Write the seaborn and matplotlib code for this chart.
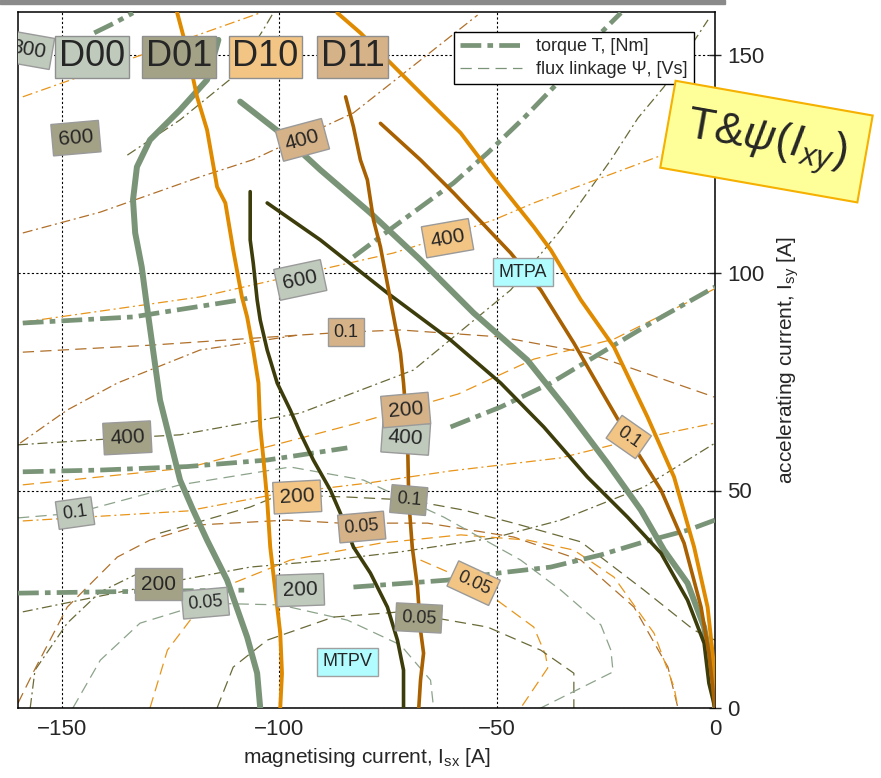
import matplotlib
matplotlib.use('Agg')
import matplotlib.pyplot as plt
from matplotlib.lines import Line2D
from matplotlib.patches import Rectangle
import seaborn as sns

# ---- thick characteristic curves (MTPV / MTPA) per drive, [A] ----
d00_mtpv_x = [-114.0, -116.6, -122.8, -129.7, -132.7, -133.6, -133.1, -131.6, -130.6, -129.0,
              -127.4, -125.1, -122.8, -119.8, -116.6, -112.0, -107.4, -105.1, -104.4]
d00_mtpv_y = [153.6, 144.4, 137.5, 130.6, 124.4, 116.8, 109.2, 101.4, 93.8, 82.3,
              70.8, 61.6, 52.4, 45.5, 38.6, 29.4, 16.3, 8.0, 0]
d01_mtpv_x = [-106.7, -106.7, -106.0, -105.1, -104.4, -102.8, -100.5, -97.5, -95.2, -92.2,
              -88.3, -86.0, -83.0, -79.1, -75.2, -72.9, -71.5, -71.5]
d01_mtpv_y = [118.7, 107.6, 102.3, 93.8, 89.2, 82.3, 74.7, 68.5, 63.2, 57.0,
              50.1, 44.8, 37.0, 31.0, 23.2, 15.6, 8.7, 0]
d10_mtpv_x = [-123.5, -121.2, -118.9, -116.6, -114.3, -112.4, -110.6, -108.6, -107.4, -106.0,
              -104.8, -104.4, -103.7, -102.8, -102.1, -101.4, -99.8, -99.4, -99.8]
d10_mtpv_y = [160, 151.3, 140.5, 132.9, 119.8, 116.1, 105.3, 94.5, 89.9, 82.3,
              74.7, 64.6, 57.7, 47.8, 37.0, 31.0, 17.2, 8.0, 0]
d11_mtpv_x = [-84.8, -83.0, -81.4, -79.8, -78.4, -76.8, -74.5, -72.2, -71.5, -70.6,
              -70.3, -69.5, -68.3, -67.6, -66.9, -67.6, -68.0]
d11_mtpv_y = [140.5, 133.6, 126.0, 121.4, 112.2, 106.0, 93.8, 81.6, 74.7, 63.2,
              47.8, 37.0, 27.8, 17.9, 12.6, 6.4, 0]

d00_mtpa_x = [-109.0, -99.8, -90.6, -79.1, -67.6, -55.4, -43.1, -33.9, -24.7, -17.0, -11.7, -6.3, -2.5, -0.2, 0]
d00_mtpa_y = [139.4, 132.2, 123.7, 113.8, 103.0, 90.8, 80.0, 68.5, 56.3, 45.5, 36.3, 28.7, 18.6, 5.7, 0]
d01_mtpa_x = [-102.8, -90.6, -75.2, -60.7, -49.2, -39.3, -29.3, -20.1, -12.4, -6.3, -2.5, -1.4, 0]
d01_mtpa_y = [116.1, 107.6, 95.4, 84.6, 74.7, 64.6, 53.1, 43.9, 35.6, 24.8, 14.9, 5.7, 0]
d10_mtpa_x = [-86.7, -81.4, -75.2, -67.6, -58.4, -50.8, -41.6, -37.7, -30.8, -23.2, -15.5, -9.4, -4.8, -1.7, -0.2, 0]
d10_mtpa_y = [159.8, 155.2, 149.0, 141.4, 132.2, 122.1, 110.6, 105.3, 93.8, 83.0, 66.9, 53.1, 37.0, 23.2, 9.4, 0]
d11_mtpa_x = [-76.8, -67.6, -60.0, -46.9, -40.0, -32.4, -26.2, -18.6, -12.4, -7.1, -3.2, -1.4, 0]
d11_mtpa_y = [134.4, 126.0, 118.4, 104.6, 96.1, 83.9, 73.1, 60.0, 50.1, 37.9, 23.2, 12.6, 0]

# ---- D00 torque contours (thick dash-dot), broken where the label sits ----
d00_t200a = ([-160, -133.6, -107.4], [26.4, 26.8, 27.1])
d00_t200b = ([-83.0, -61.4, -49.9, -37.7, -26.2, -16.3, -6.2, 0], [27.8, 29.4, 31.0, 32.4, 35.2, 38.2, 40.9, 43.2])
d00_t400a = ([-158.9, -141.1, -121.2, -102.8, -84.4], [54.3, 54.7, 55.5, 57.0, 59.8])
d00_t400b = ([-60.7, -49.2, -37.7, -26.2, -14.7, 0], [64.6, 69.2, 74.7, 81.6, 88.5, 96.8])
d00_t600a = ([-158.9, -133.6, -109.0, -106.0], [88.5, 89.9, 93.8, 94.5])
d00_t600b = ([-83.0, -73.8, -60.0, -52.2, -43.9, -36.1, -28.5, -21.6], [103.7, 110.6, 120.7, 127.6, 135.6, 143.7, 152.9, 159.8])
d00_t800 = ([-142.5, -138.0, -133.6], [155.2, 157.4, 159.8])

# ---- thin torque contours (dash-dot) ----
d10_t800 = ([-158.9, -130.3, -104.4], [140.5, 150.6, 159.8])
d01_t800 = ([-134.9, -122.8, -110.6, -103.7, -101.4], [127.1, 135.2, 145.1, 155.9, 159.8])
d11_t600 = ([-158.9, -141.1, -118.2, -106.2, -83.0, -65.5, -54.5], [109.2, 114.0, 122.1, 126.0, 136.8, 150.6, 159.3])
d01_t400 = ([-160, -135.4, -122.8, -95.2, -69.2, -46.9, -35.4, -23.9, -17.7, -11.7, -1.6],
            [60.5, 62.1, 62.8, 67.8, 77.7, 96.1, 109.9, 126.0, 135.6, 142.8, 158.2])
d10_t400 = ([-158.9, -118.2, -73.8, -63.0, -50.8, -41.6, -14.0, 0], [88.7, 94.5, 104.6, 108.0, 112.2, 116.1, 126.4, 131.7])
d11_t400 = ([-159.5, -148.7, -137.2, -118.2, -95.9], [60.9, 68.5, 74.7, 82.3, 85.7])
d10_t200 = ([-158.9, -121.1, -100.5, -79.8, -60.7, -35.4, -19.8, 0], [43.0, 45.3, 49.2, 51.7, 54.5, 57.5, 61.4, 65.5])
d01_t200 = ([-158.9, -127.6, -106.7, -88.3, -72.2, -50.8, -35.4, -16.3, 0], [22.1, 28.5, 32.4, 34.0, 35.9, 39.1, 43.2, 50.8, 60.9])
d01_t100 = ([-157.2, -156.1, -148.7, -141.1, -133.1], [0, 8.7, 19.5, 26.7, 30.6])

# ---- thin flux linkage contours (dashed) ----
d11_f010 = ([-158.9, -129.7, -95.9, -84.8, -72.2, -49.2, -29.2, -0.2], [81.8, 83.4, 85.7, 86.4, 86.9, 85.3, 81.6, 71.5])
d10_f015 = ([-158.9, -121.1, -82.8, -58.9, -41.6, -23.2, -0.2], [51.3, 55.2, 65.3, 72.2, 80.2, 84.8, 96.3])
d11_f005 = ([-160, -156.6, -148.7, -137.2, -129.7, -118.2, -98.2, -86.0, -66.0, -46.2, -30.8, -18.6, -10.8, -8.5],
            [1.1, 8.0, 23.2, 34.7, 38.6, 42.1, 43.2, 42.5, 42.5, 39.3, 34.0, 23.2, 9.4, 0])
d10_f010 = ([-129.7, -125.7, -118.2, -110.6, -97.5, -76.8, -58.4, -43.0, -32.4, -23.2, -14.0, -9.4, -8.5],
            [0, 13.3, 23.2, 28.7, 34.0, 37.9, 39.8, 38.6, 36.3, 30.1, 17.2, 4.8, 0])
d10_f005 = ([-67.6, -55.4, -41.6, -38.9, -38.4, -44.6], [34.0, 28.7, 18.6, 12.2, 9.2, 0])
d00_f005 = ([-147.4, -141.1, -132.0, -117.0, -99.8, -84.4, -72.2, -65.3, -64.6], [0, 11.0, 19.5, 24.1, 23.7, 20.2, 14.5, 6.4, 0])
d01_f005 = ([-114.3, -110.6, -102.8, -87.6, -72.2, -52.2, -40.0, -32.4, -32.4], [0, 9.4, 15.6, 20.9, 22.1, 18.6, 13.3, 8.0, 0])
d00_f010 = ([-160, -146.9, -122.8, -97.5, -80.7, -62.3, -44.6, -35.4, -26.2, -23.9, -23.4, -30.8, -40.0],
            [43.7, 44.8, 51.3, 55.4, 52.4, 43.9, 34.0, 27.1, 19.1, 13.3, 8.3, 4.6, 0])
d01_f010 = ([-127.4, -106.7, -99.8, -84.4, -70.3, -57.7, -46.2, -30.8, -16.3, -4.8, 0],
            [40.2, 46.2, 49.0, 48.5, 47.8, 45.5, 42.5, 38.2, 27.1, 17.9, 15.6])

# ---- contour labels ----
d00_lbl = ['800', '600', '400', '200', '0.1', '0.05']
d00_lbl_x = [-157.6, -95.2, -71.0, -95.2, -146.9, -117.0]
d00_lbl_y = [151.3, 98.4, 62.1, 27.1, 44.8, 24.1]
d01_lbl = ['600', '400', '200', '0.1', '0.05']
d01_lbl_x = [-146.7, -134.9, -127.8, -70.3, -68.0]
d01_lbl_y = [131.0, 62.1, 28.5, 47.8, 20.7]
d10_lbl = ['400', '200', '0.1', '0.05']
d10_lbl_x = [-61.4, -95.9, -19.8, -55.4]
d10_lbl_y = [108.0, 48.5, 62.3, 28.7]
d11_lbl = ['400', '200', '0.1', '0.05']
d11_lbl_x = [-94.7, -71.0, -84.8, -81.1]
d11_lbl_y = [130.6, 68.5, 86.4, 41.6]

drives = ['D00', 'D01', 'D10', 'D11']
drive_lbl_x = [-143.0, -123.0, -103.2, -83.2]
drive_lbl_y = [149.7, 149.7, 149.7, 149.7]

# ---- styling ----
sns.set_style('white')
plt.rcParams['font.family'] = ['Liberation Sans', 'DejaVu Sans']
plt.rcParams['mathtext.fontset'] = 'custom'
plt.rcParams['mathtext.rm'] = 'Liberation Sans'
plt.rcParams['mathtext.it'] = 'Liberation Sans:italic'
plt.rcParams['mathtext.default'] = 'regular'

C00, C01, C10, C11 = '#7A9478', '#3D3D0C', '#E08A00', '#A86000'
T00, T01, T10, T11 = '#8CA38A', '#6A6A38', '#E8951A', '#B0702A'   # thin contour tints
B00, B01, B10, B11 = '#BFCABD', '#A4A286', '#F2C585', '#D5B287'
TQ_THICK = (0, (4.4, 1.3, 1.2, 1.3))
TQ_THIN = (0, (8, 3, 1.6, 3))
FLUX = (0, (9, 5))

fig = plt.figure(figsize=(8.81, 7.78), dpi=100)
ax = fig.add_axes([18 / 881, 70 / 778, 697 / 881, 696 / 778])


def line(xy, color, lw, ls, z=2):
    sns.lineplot(x=xy[0], y=xy[1], sort=False, estimator=None, color=color,
                 lw=lw, linestyle=ls, ax=ax, zorder=z)


# thin contours
for xy, c in [(d10_t800, T10), (d01_t800, T01), (d11_t600, T11), (d01_t400, T01),
              (d10_t400, T10), (d11_t400, T11), (d10_t200, T10), (d01_t200, T01), (d01_t100, T01)]:
    line(xy, c, 0.9, TQ_THIN)
for xy, c in [(d11_f010, T11), (d10_f015, T10), (d11_f005, T11), (d10_f010, T10), (d10_f005, T10),
              (d00_f005, T00), (d01_f005, T01), (d00_f010, T00), (d01_f010, T01)]:
    line(xy, c, 0.9, FLUX)

# thick D00 torque contours
for xy in [d00_t200a, d00_t200b, d00_t400a, d00_t400b, d00_t600a, d00_t600b, d00_t800]:
    line(xy, C00, 3.4, TQ_THICK, z=3)

# MTPV / MTPA
for x, y, c, w in [(d00_mtpv_x, d00_mtpv_y, C00, 4.3), (d00_mtpa_x, d00_mtpa_y, C00, 4.3),
                   (d10_mtpv_x, d10_mtpv_y, C10, 2.8), (d10_mtpa_x, d10_mtpa_y, C10, 2.8),
                   (d01_mtpv_x, d01_mtpv_y, C01, 2.6), (d01_mtpa_x, d01_mtpa_y, C01, 2.6),
                   (d11_mtpv_x, d11_mtpv_y, C11, 2.6), (d11_mtpa_x, d11_mtpa_y, C11, 2.6)]:
    line((x, y), c, w, '-', z=4)

# contour labels
rot = {'D00': [-10, 12, -4, 2, 8, 5], 'D01': [5, 3, 0, -5, -3],
       'D10': [10, 3, -35, -25], 'D11': [15, 5, 0, 5]}
for key, texts, xs, ys, fc in [('D00', d00_lbl, d00_lbl_x, d00_lbl_y, B00),
                               ('D01', d01_lbl, d01_lbl_x, d01_lbl_y, B01),
                               ('D10', d10_lbl, d10_lbl_x, d10_lbl_y, B10),
                               ('D11', d11_lbl, d11_lbl_x, d11_lbl_y, B11)]:
    for t, x, y, r in zip(texts, xs, ys, rot[key]):
        fs = 13 if '.' in t else 15
        ax.text(x, y, t, fontsize=fs, ha='center', va='center', rotation=r,
                rotation_mode='anchor', zorder=6, clip_on=True,
                bbox=dict(boxstyle='square,pad=0.3', fc=fc, ec='#9a9a9a', lw=1))

for t, x, y, fc in zip(drives, drive_lbl_x, drive_lbl_y, [B00, B01, B10, B11]):
    ax.text(x, y, t, fontsize=26, ha='center', va='center', zorder=6,
            bbox=dict(boxstyle='square,pad=0.1', fc=fc, ec='#8f8f8f', lw=1))

ax.text(-44.1, 100.2, 'MTPA', fontsize=13, ha='center', va='center', zorder=6,
        bbox=dict(boxstyle='square,pad=0.3', fc='#B0FCFF', ec='#a0a0a0', lw=1))
ax.text(-84.4, 10.6, 'MTPV', fontsize=13, ha='center', va='center', zorder=6,
        bbox=dict(boxstyle='square,pad=0.3', fc='#B0FCFF', ec='#a0a0a0', lw=1))

# axes
ax.set_xlim(-160, 0)
ax.set_ylim(0, 160)
ax.set_xticks([-150, -100, -50, 0])
ax.set_yticks([0, 50, 100, 150])
ax.grid(True, color='black', ls=(0, (2, 2)), lw=0.8)
ax.yaxis.tick_right()
ax.yaxis.set_label_position('right')
ax.tick_params(axis='y', direction='inout', length=9, width=1, labelsize=16, pad=4, right=True, left=False)
ax.tick_params(axis='x', length=0, labelsize=16, pad=8)
for s in ax.spines.values():
    s.set_color('black')
    s.set_linewidth(1.1)
ax.set_xlabel(r'magnetising current, I$_{sx}$ [A]', fontsize=15, labelpad=4)
ax.set_ylabel(r'accelerating current, I$_{sy}$ [A]', fontsize=15, labelpad=8)

handles = [Line2D([], [], color=C00, lw=3.4, ls=TQ_THICK),
           Line2D([], [], color=C00, lw=0.9, ls=FLUX)]
leg = ax.legend(handles, ['torque T, [Nm]', 'flux linkage \u03a8, [Vs]'], loc='upper right',
                bbox_to_anchor=(0.983, 0.984), fontsize=13, handlelength=3.4, fancybox=False,
                framealpha=1, edgecolor='black', borderpad=0.35, labelspacing=0.3)
leg.get_frame().set_linewidth(1)
leg.set_zorder(7)

# note and top bar
fig.text(0.870, 0.818, r'T&$\mathit{\psi}$($\mathit{I}_{\mathit{xy}}$)', fontsize=32,
         ha='center', va='center', rotation=-10, rotation_mode='anchor',
         bbox=dict(boxstyle='square,pad=0.42', fc='#FFFF99', ec='#F5B000', lw=1.5))
fig.add_artist(Rectangle((0, 1 - 4 / 778), 725 / 881, 4 / 778, transform=fig.transFigure,
                         color='#8a8a8a'))

fig.savefig('out.png', dpi=100)
